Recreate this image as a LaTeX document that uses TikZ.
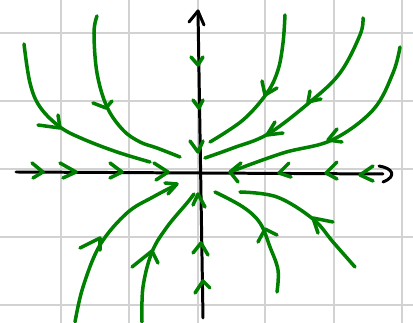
\documentclass[tikz,border=0pt]{standalone}
\usetikzlibrary{calc}
\definecolor{gridgrey}{RGB}{210,210,210}
\definecolor{traj}{RGB}{0,128,0}
\tikzset{
  gridline/.style={draw=gridgrey, line width=1.2pt},
  axisline/.style={draw=black, line width=1.7pt, line cap=round, line join=round},
  trajline/.style={draw=traj, line width=2pt, line cap=round, line join=round},
  barbline/.style={draw=traj, line width=2pt, line cap=round, line join=round},
}
\begin{document}
\begin{tikzpicture}[x=0.02cm,y=-0.02cm]
\useasboundingbox (0,0) rectangle (413,323);
\fill[white] (0,0) rectangle (413,323);
% grid
\foreach \gx in {61,129,198,265,334,402} \draw[gridline] (\gx,0) -- (\gx,323);
\foreach \gy in {33,101,169,237,305} \draw[gridline] (0,\gy) -- (413,\gy);
% axes
\coordinate (xl) at (16,172);
\coordinate (xr) at (383,174);
\coordinate (yt) at (198,11);
\coordinate (yb) at (203,318);
\draw[axisline] (xl) -- (xr);
\draw[axisline] (379,166) .. controls (392,168) and (398,176) .. (383,182);
\draw[axisline] (yb) -- (yt);
\draw[axisline] (189,22) -- (yt) -- (204,25);
% trajectories
\draw[trajline] plot[smooth, tension=0.6] coordinates {(24,44) (30,83) (40,107) (60,127) (83,139) (117,152) (150,162)};
\draw[trajline] plot[smooth, tension=0.6] coordinates {(97,16) (94,33) (97,73) (107,107) (123,130) (140,142) (157,148) (180,157)};
\draw[trajline] plot[smooth, tension=0.6] coordinates {(285,15) (283,43) (278,70) (267,93) (243,120) (210,142)};
\draw[trajline] plot[smooth, tension=0.6] coordinates {(363,18) (360,35) (340,73) (310,102) (268,134) (233,148) (205,158)};
\draw[trajline] plot[smooth, tension=0.6] coordinates {(400,47) (393,73) (373,110) (332,140) (283,153) (230,172)};
\draw[trajline] plot[smooth, tension=0.6] coordinates {(215,192) (243,207) (260,223) (270,247) (278,270) (277,292)};
\draw[trajline] plot[smooth, tension=0.6] coordinates {(240,192) (277,197) (313,219) (333,242) (355,267)};
\draw[trajline] plot[smooth, tension=0.6] coordinates {(75,322) (83,287) (100,245) (127,213) (153,197) (176,185)};
\draw[trajline] plot[smooth, tension=0.6] coordinates {(142,322) (143,287) (152,252) (167,227) (187,203) (194,194)};
% arrowheads on trajectories
\draw[barbline] (38,125) -- (60,128) -- (58,115);
\draw[barbline] (93,103) -- (106,108) -- (112,101);
\draw[barbline] (262,81) -- (265,95) -- (277,88);
\draw[barbline] (310,91) -- (308,102) -- (321,99);
\draw[barbline] (275,122) -- (267,135) -- (283,133);
\draw[barbline] (337,129) -- (328,140) -- (342,142);
\draw[barbline] (241,163) -- (230,172) -- (238,182);
\draw[barbline] (258,242) -- (265,229) -- (277,235);
\draw[barbline] (333,222) -- (313,218) -- (318,233);
\draw[barbline] (80,248) -- (100,238) -- (100,250);
\draw[barbline] (165,183) -- (177,184) -- (168,194);
\draw[barbline] (132,267) -- (152,251) -- (158,263);
% arrows on the y-axis
\draw[barbline] (191,57) -- (198,65) -- (203,57);
\draw[barbline] (193,100) -- (199,108) -- (203,100);
\draw[barbline] (190,141) -- (198,152) -- (203,141);
\draw[barbline] (193,205) -- (198,194) -- (205,207);
\draw[barbline] (193,253) -- (201,243) -- (208,255);
\draw[barbline] (195,293) -- (203,281) -- (210,288);
% arrows on the x-axis
\draw[barbline] (32,163) -- (43,172) -- (33,178);
\draw[barbline] (60,163) -- (76,172) -- (63,178);
\draw[barbline] (110,163) -- (122,172) -- (110,178);
\draw[barbline] (154,163) -- (168,172) -- (156,180);
\draw[barbline] (289,163) -- (279,173) -- (291,177);
\draw[barbline] (337,162) -- (326,173) -- (337,179);
\draw[barbline] (373,166) -- (360,175) -- (373,181);
\end{tikzpicture}
\end{document}
